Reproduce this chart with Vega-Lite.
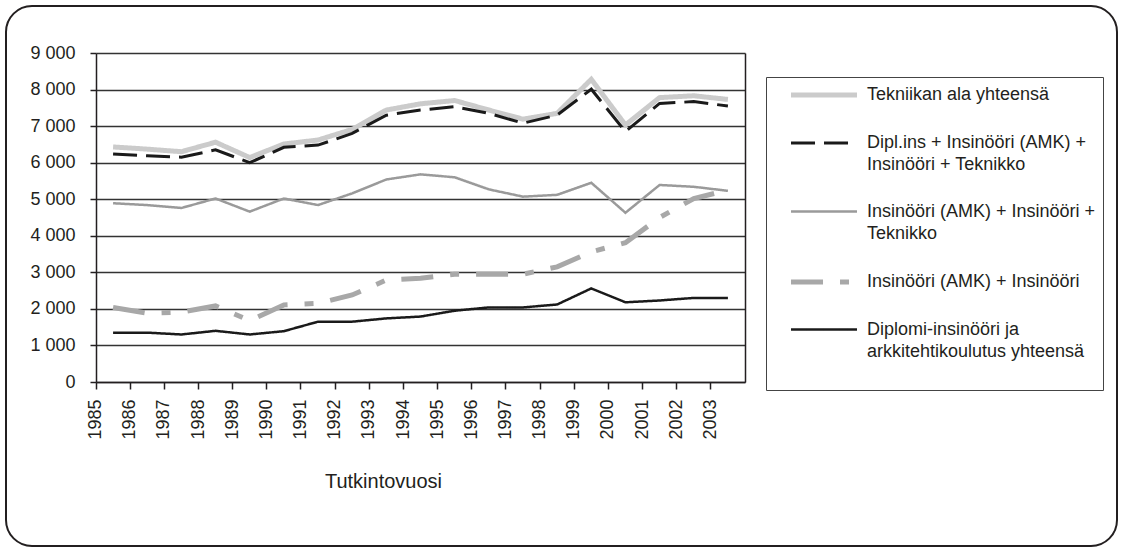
{
  "$schema": "https://vega.github.io/schema/vega-lite/v6.json",
  "width": 1111,
  "height": 540,
  "autosize": {"type": "none"},
  "padding": {"left": 6, "top": 6, "right": 5, "bottom": 4},
  "background": "white",
  "config": {
    "view": {"stroke": "#231f20", "strokeWidth": 2, "cornerRadius": 26},
    "font": "Liberation Sans"
  },
  "data": {
    "values": [
      {"year": 1985, "s": "tek", "value": 6430}, {"year": 1986, "s": "tek", "value": 6370}, {"year": 1987, "s": "tek", "value": 6300}, {"year": 1988, "s": "tek", "value": 6560}, {"year": 1989, "s": "tek", "value": 6140}, {"year": 1990, "s": "tek", "value": 6510}, {"year": 1991, "s": "tek", "value": 6620}, {"year": 1992, "s": "tek", "value": 6910}, {"year": 1993, "s": "tek", "value": 7440}, {"year": 1994, "s": "tek", "value": 7610}, {"year": 1995, "s": "tek", "value": 7700}, {"year": 1996, "s": "tek", "value": 7440}, {"year": 1997, "s": "tek", "value": 7190}, {"year": 1998, "s": "tek", "value": 7350}, {"year": 1999, "s": "tek", "value": 8280}, {"year": 2000, "s": "tek", "value": 7030}, {"year": 2001, "s": "tek", "value": 7780}, {"year": 2002, "s": "tek", "value": 7830}, {"year": 2003, "s": "tek", "value": 7730},
      {"year": 1985, "s": "dip", "value": 6240}, {"year": 1986, "s": "dip", "value": 6190}, {"year": 1987, "s": "dip", "value": 6150}, {"year": 1988, "s": "dip", "value": 6350}, {"year": 1989, "s": "dip", "value": 6000}, {"year": 1990, "s": "dip", "value": 6420}, {"year": 1991, "s": "dip", "value": 6480}, {"year": 1992, "s": "dip", "value": 6800}, {"year": 1993, "s": "dip", "value": 7300}, {"year": 1994, "s": "dip", "value": 7440}, {"year": 1995, "s": "dip", "value": 7530}, {"year": 1996, "s": "dip", "value": 7350}, {"year": 1997, "s": "dip", "value": 7080}, {"year": 1998, "s": "dip", "value": 7300}, {"year": 1999, "s": "dip", "value": 8010}, {"year": 2000, "s": "dip", "value": 6850}, {"year": 2001, "s": "dip", "value": 7620}, {"year": 2002, "s": "dip", "value": 7670}, {"year": 2003, "s": "dip", "value": 7550},
      {"year": 1985, "s": "ite", "value": 4890}, {"year": 1986, "s": "ite", "value": 4840}, {"year": 1987, "s": "ite", "value": 4760}, {"year": 1988, "s": "ite", "value": 5020}, {"year": 1989, "s": "ite", "value": 4660}, {"year": 1990, "s": "ite", "value": 5020}, {"year": 1991, "s": "ite", "value": 4840}, {"year": 1992, "s": "ite", "value": 5160}, {"year": 1993, "s": "ite", "value": 5540}, {"year": 1994, "s": "ite", "value": 5680}, {"year": 1995, "s": "ite", "value": 5600}, {"year": 1996, "s": "ite", "value": 5270}, {"year": 1997, "s": "ite", "value": 5070}, {"year": 1998, "s": "ite", "value": 5120}, {"year": 1999, "s": "ite", "value": 5450}, {"year": 2000, "s": "ite", "value": 4630}, {"year": 2001, "s": "ite", "value": 5390}, {"year": 2002, "s": "ite", "value": 5340}, {"year": 2003, "s": "ite", "value": 5230},
      {"year": 1985, "s": "ii", "value": 2040}, {"year": 1986, "s": "ii", "value": 1880}, {"year": 1987, "s": "ii", "value": 1910}, {"year": 1988, "s": "ii", "value": 2080}, {"year": 1989, "s": "ii", "value": 1680}, {"year": 1990, "s": "ii", "value": 2110}, {"year": 1991, "s": "ii", "value": 2150}, {"year": 1992, "s": "ii", "value": 2380}, {"year": 1993, "s": "ii", "value": 2790}, {"year": 1994, "s": "ii", "value": 2840}, {"year": 1995, "s": "ii", "value": 2950}, {"year": 1996, "s": "ii", "value": 2950}, {"year": 1997, "s": "ii", "value": 2950}, {"year": 1998, "s": "ii", "value": 3150}, {"year": 1999, "s": "ii", "value": 3560}, {"year": 2000, "s": "ii", "value": 3810}, {"year": 2001, "s": "ii", "value": 4500}, {"year": 2002, "s": "ii", "value": 5020}, {"year": 2003, "s": "ii", "value": 5250},
      {"year": 1985, "s": "da", "value": 1350}, {"year": 1986, "s": "da", "value": 1350}, {"year": 1987, "s": "da", "value": 1300}, {"year": 1988, "s": "da", "value": 1400}, {"year": 1989, "s": "da", "value": 1300}, {"year": 1990, "s": "da", "value": 1390}, {"year": 1991, "s": "da", "value": 1650}, {"year": 1992, "s": "da", "value": 1650}, {"year": 1993, "s": "da", "value": 1740}, {"year": 1994, "s": "da", "value": 1790}, {"year": 1995, "s": "da", "value": 1950}, {"year": 1996, "s": "da", "value": 2040}, {"year": 1997, "s": "da", "value": 2040}, {"year": 1998, "s": "da", "value": 2120}, {"year": 1999, "s": "da", "value": 2560}, {"year": 2000, "s": "da", "value": 2180}, {"year": 2001, "s": "da", "value": 2230}, {"year": 2002, "s": "da", "value": 2300}, {"year": 2003, "s": "da", "value": 2300}
    ]
  },
  "layer": [
    {
      "mark": {"type": "line", "strokeCap": "butt", "strokeJoin": "miter"},
      "encoding": {
        "x": {
          "field": "year", "type": "ordinal",
          "scale": {"type": "band", "range": [90, 739], "paddingInner": 0, "paddingOuter": 0},
          "axis": {
            "orient": "bottom", "offset": -164, "bandPosition": 0, "labelOffset": -17,
            "labelAngle": -90, "labelAlign": "right", "labelBaseline": "middle",
            "labelFontSize": 18, "labelColor": "#231f20", "labelPadding": 10, "labelOverlap": false, "labelBound": false,
            "tickSize": 7, "tickWidth": 1.5, "tickColor": "#231f20",
            "domainColor": "#231f20", "domainWidth": 1.5, "grid": false,
            "title": "Tutkintovuosi", "titleFontSize": 20, "titleFontWeight": "normal", "titleColor": "#231f20",
            "titleX": 377, "titleY": 99, "titleBaseline": "middle", "titleAlign": "center", "titleAngle": 0
          }
        },
        "y": {
          "field": "value", "type": "quantitative",
          "scale": {"domain": [0, 9000], "range": [376, 47], "nice": false},
          "axis": {
            "orient": "left", "offset": -90,
            "values": [0, 1000, 2000, 3000, 4000, 5000, 6000, 7000, 8000, 9000],
            "labelExpr": "replace(format(datum.value, ','), ',', ' ')",
            "labelFontSize": 18, "labelColor": "#231f20", "labelPadding": 15,
            "tickSize": 6, "tickWidth": 1.5, "tickColor": "#231f20",
            "domainColor": "#231f20", "domainWidth": 1.5,
            "grid": true, "gridColor": "#333333", "gridWidth": 1.5,
            "title": null
          }
        },
        "color": {
          "field": "s", "type": "nominal",
          "scale": {"domain": ["tek", "dip", "ite", "ii", "da"], "range": ["#cbcbcb", "#1a1a1a", "#9a9a9a", "#a8a8a8", "#1a1a1a"]},
          "legend": {
            "orient": "none", "legendX": 760, "legendY": 71, "title": null,
            "strokeColor": "#444444", "fillColor": "white", "padding": 7,
            "symbolOffset": 40, "labelOffset": 32, "symbolSize": 272, "symbolType": "M-4,0H4",
            "labelFontSize": 18, "labelLimit": 400, "labelColor": "#231f20", "rowPadding": 28,
            "labelExpr": "datum.value == 'tek' ? 'Tekniikan ala yhteensä' : datum.value == 'dip' ? ['Dipl.ins + Insinööri (AMK) +', 'Insinööri + Teknikko'] : datum.value == 'ite' ? ['Insinööri (AMK) + Insinööri +', 'Teknikko'] : datum.value == 'ii' ? 'Insinööri (AMK) + Insinööri' : ['Diplomi-insinööri ja', 'arkkitehtikoulutus yhteensä', '']",
            "encode": {"labels": {"update": {"lineHeight": {"value": 22}}}}
          }
        },
        "strokeDash": {
          "field": "s", "type": "nominal",
          "scale": {"domain": ["tek", "dip", "ite", "ii", "da"], "range": [[1, 0], [24, 9], [1, 0], [32, 17, 9, 17], [1, 0]]},
          "legend": null
        },
        "strokeWidth": {
          "field": "s", "type": "nominal",
          "scale": {"type": "ordinal", "domain": ["tek", "dip", "ite", "ii", "da"], "range": [5, 3, 2.5, 5, 2.5]},
          "legend": null
        }
      }
    },
    {
      "mark": {"type": "point", "opacity": 0},
      "encoding": {
        "x": {"field": "year", "type": "ordinal"},
        "y": {
          "field": "value", "type": "quantitative",
          "axis": {"orient": "right", "offset": -372, "labels": false, "ticks": false, "grid": false, "domain": true, "domainColor": "#231f20", "domainWidth": 1.5, "title": null}
        }
      }
    }
  ],
  "resolve": {"axis": {"y": "independent"}}
}
